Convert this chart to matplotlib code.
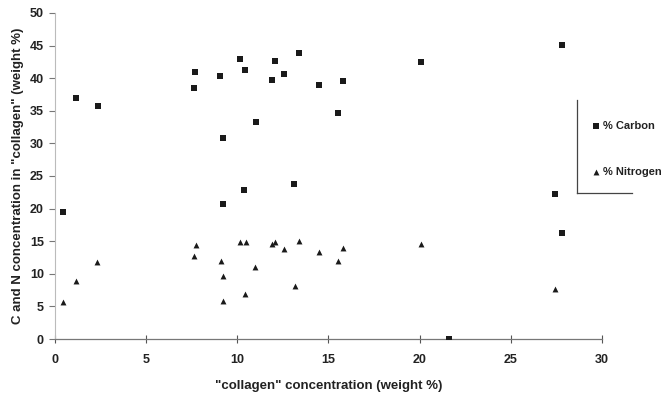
#!/usr/bin/env python3

import numpy as np
from matplotlib import pyplot as plt
from matplotlib.lines import Line2D

# collagen concentration (weight %) vs C / N concentration (weight %)
carbon_x = [0.44, 1.15, 2.34, 7.68, 7.64, 9.05, 9.2, 9.23, 10.15, 10.42, 10.38, 11.0,
            12.07, 11.9, 12.58, 13.4, 13.13, 14.5, 15.5, 15.82, 20.1, 27.83, 27.43,
            27.83, 21.6]
carbon_y = [19.5, 37.0, 35.8, 41.0, 38.5, 40.3, 30.9, 20.7, 42.9, 41.2, 22.8, 33.3,
            42.7, 39.7, 40.6, 43.8, 23.7, 39.0, 34.6, 39.5, 42.5, 45.1, 22.2,
            16.2, 0.0]

nitrogen_x = [0.46, 1.15, 2.32, 7.62, 7.72, 9.1, 9.2, 9.2, 10.17, 10.46, 10.42, 10.99,
              11.88, 12.08, 12.58, 13.4, 13.17, 14.5, 15.5, 15.82, 20.1, 27.43]
nitrogen_y = [5.6, 8.9, 11.8, 12.8, 14.4, 12.0, 9.6, 5.9, 14.9, 14.8, 6.9, 11.1,
              14.5, 14.8, 13.8, 15.1, 8.1, 13.3, 12.0, 14.0, 14.6, 7.7]

xticks = [0, 5, 10, 15, 20, 25, 30]
yticks = [0, 5, 10, 15, 20, 25, 30, 35, 40, 45, 50]

plt.rcParams['font.family'] = ['Liberation Sans', 'DejaVu Sans']
plt.rcParams['font.weight'] = 'bold'

fig = plt.figure(figsize=(6.67, 3.93), dpi=100)
ax = fig.add_axes([0.0825, 0.1374, 0.82, 0.8296])

ax.scatter(carbon_x, carbon_y, marker='s', s=16, color='#1a1a1a', label='% Carbon',
           linewidths=0, zorder=3)
ax.scatter(nitrogen_x, nitrogen_y, marker='^', s=18, color='#1a1a1a', label='% Nitrogen',
           linewidths=0, zorder=3)

ax.set_xlim(0, 30)
ax.set_ylim(0, 50)
ax.set_xticks(xticks)
ax.set_yticks(yticks)
ax.tick_params(axis='x', direction='inout', length=6, color='#555555',
               labelsize=9, pad=8, labelcolor='#222222')
ax.tick_params(axis='y', direction='out', length=4, color='#777777',
               labelsize=9, pad=4, labelcolor='#222222')
for lbl in ax.get_xticklabels() + ax.get_yticklabels():
  lbl.set_fontweight('bold')

for side in ['top', 'right']:
  ax.spines[side].set_visible(False)
ax.spines['left'].set_color('#bbbbbb')
ax.spines['left'].set_linewidth(0.8)
ax.spines['bottom'].set_color('#777777')
ax.spines['bottom'].set_linewidth(0.9)

ax.set_xlabel('"collagen" concentration (weight %)', fontsize=9.5, fontweight='bold',
              color='#222222', labelpad=10)
ax.set_ylabel('C and N concentration in "collagen" (weight %)', fontsize=9.5,
              fontweight='bold', color='#222222', labelpad=4)

leg = ax.legend(loc='upper left', bbox_to_anchor=(0.983, 0.668), frameon=False,
                handlelength=0.6, handletextpad=0.3, labelspacing=3.2, fontsize=8,
                borderaxespad=0, borderpad=0)
for t in leg.get_texts():
  t.set_fontweight('bold')
  t.set_color('#222222')

# partial legend frame: left and bottom edges
fig.add_artist(Line2D([577 / 667, 577 / 667], [1 - 100 / 393, 1 - 193 / 393],
                      transform=fig.transFigure, color='#444444', lw=0.9))
fig.add_artist(Line2D([577 / 667, 632 / 667], [1 - 193 / 393, 1 - 193 / 393],
                      transform=fig.transFigure, color='#444444', lw=0.9))

plt.savefig('out.png', dpi=100)
